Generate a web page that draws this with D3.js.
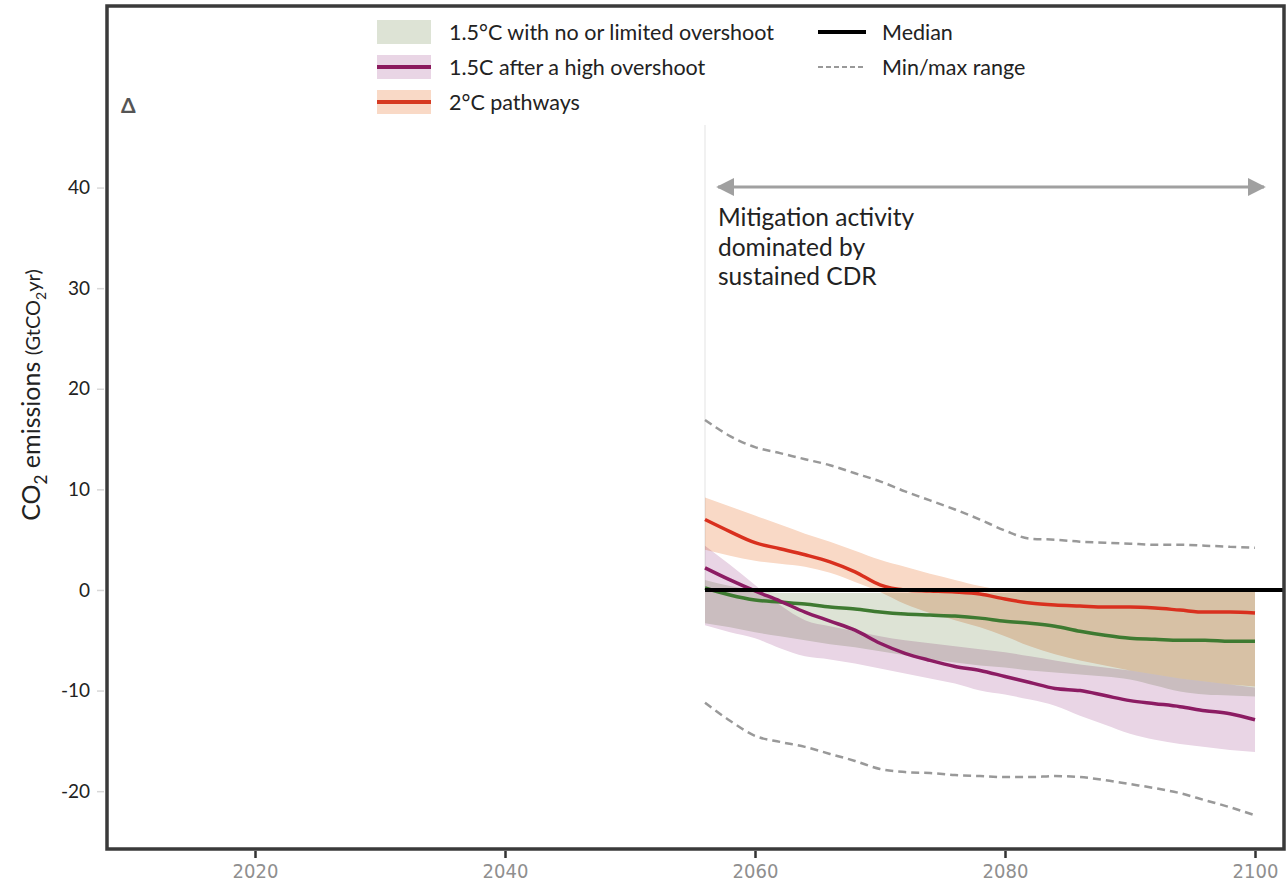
<!DOCTYPE html>
<html>
<head>
<meta charset="utf-8">
<script src="https://cdn.jsdelivr.net/npm/d3@7"></script>
<style>
  body { margin: 0; background: #fff; }
  svg { display: block; font-family: Lato, "Open Sans", sans-serif; }
  .band { mix-blend-mode: multiply; }
</style>
</head>
<body>
<div id="chart"></div>
<script>
// years every 2 yrs, 2056..2100
var years = d3.range(2056, 2101, 2);

// 2°C pathways
var red_med = [7.0, 5.8, 4.7, 4.1, 3.5, 2.8, 1.8, 0.5, 0.0, -0.1, -0.2, -0.4, -0.9, -1.3, -1.5, -1.6, -1.7, -1.7, -1.8, -2.0, -2.2, -2.2, -2.3];
var red_hi = [9.2, 8.3, 7.4, 6.5, 5.6, 4.8, 3.9, 3.0, 2.3, 1.6, 1.0, 0.4, 0.0, -0.1, -0.2, -0.2, -0.2, -0.2, -0.2, -0.2, -0.2, -0.2, -0.2];
var red_lo = [4.0, 3.4, 2.9, 2.6, 2.3, 1.7, 0.8, -0.2, -1.4, -2.3, -3.0, -3.7, -4.6, -5.6, -6.4, -7.0, -7.5, -8.0, -8.4, -8.8, -9.1, -9.4, -9.6];

// 1.5C after a high overshoot
var pur_med = [2.2, 1.0, -0.1, -1.1, -2.2, -3.1, -4.0, -5.3, -6.3, -7.0, -7.6, -8.0, -8.6, -9.2, -9.8, -10.0, -10.5, -11.0, -11.3, -11.6, -12.0, -12.3, -12.9];
var pur_hi = [4.4, 2.5, 0.5, -1.5, -3.0, -3.6, -4.1, -4.6, -5.0, -5.3, -5.6, -5.9, -6.2, -6.6, -7.0, -7.4, -7.7, -8.0, -8.4, -8.8, -9.1, -9.4, -9.7];
var pur_lo = [-3.5, -4.2, -4.8, -5.8, -6.6, -6.9, -7.3, -7.8, -8.3, -8.8, -9.3, -10.0, -10.4, -10.9, -11.5, -12.5, -13.4, -14.3, -14.9, -15.3, -15.6, -15.9, -16.1];

// 1.5°C with no or limited overshoot
var grn_med = [0.2, -0.5, -1.0, -1.2, -1.4, -1.7, -1.9, -2.2, -2.4, -2.5, -2.6, -2.8, -3.1, -3.3, -3.6, -4.1, -4.5, -4.8, -4.9, -5.0, -5.0, -5.1, -5.1];
var grn_hi = [1.0, 0.4, 0.0, -0.3, -0.3, -0.3, -0.3, -0.3, -0.3, -0.3, -0.3, -0.3, -0.3, -0.2, -0.2, -0.2, -0.2, -0.2, -0.2, -0.2, -0.2, -0.2, -0.2];
var grn_lo = [-3.3, -3.7, -4.2, -4.6, -5.0, -5.4, -5.7, -6.1, -6.5, -6.9, -7.2, -7.5, -7.7, -8.0, -8.2, -8.4, -8.6, -8.9, -9.5, -10.1, -10.4, -10.5, -10.6];

// min / max range
var range_max = [16.9, 15.3, 14.2, 13.6, 13.0, 12.4, 11.6, 10.8, 9.8, 8.9, 8.0, 7.0, 5.9, 5.1, 5.0, 4.8, 4.7, 4.6, 4.5, 4.5, 4.4, 4.3, 4.2];
var range_min = [-11.2, -13.0, -14.5, -15.1, -15.6, -16.3, -17.0, -17.8, -18.1, -18.2, -18.4, -18.5, -18.6, -18.6, -18.5, -18.6, -18.9, -19.3, -19.7, -20.2, -20.9, -21.6, -22.4];

var yTicks = [-20, -10, 0, 10, 20, 30, 40];
var xTicks = [2020, 2040, 2060, 2080, 2100];

var width = 1286, height = 886;
var frame = {left: 107, top: 6, right: 1284, bottom: 849};

var svg = d3.select("#chart").append("svg")
    .attr("width", width)
    .attr("height", height);

var x = d3.scaleLinear().domain([2008.16, 2102.32]).range([frame.left, frame.right]);
var y = d3.scaleLinear().domain([-25.75, 58.05]).range([frame.bottom, frame.top]);

var plot = svg.append("g").style("isolation", "isolate");
plot.append("rect")
    .attr("x", frame.left).attr("y", frame.top)
    .attr("width", frame.right - frame.left).attr("height", frame.bottom - frame.top)
    .attr("fill", "#fff");

// faint vertical marker where the CDR period starts
plot.append("line")
    .attr("x1", x(2056)).attr("x2", x(2056))
    .attr("y1", 125).attr("y2", y(0))
    .attr("stroke", "#ececec").attr("stroke-width", 1.5);

function band(hi, lo, color) {
  var area = d3.area()
    .x(function (d, i) { return x(years[i]); })
    .y0(function (d, i) { return y(lo[i]); })
    .y1(function (d, i) { return y(hi[i]); })
    .curve(d3.curveMonotoneX);
  plot.append("path")
    .datum(hi)
    .attr("class", "band")
    .attr("d", area)
    .attr("fill", color);
}

band(red_hi, red_lo, "#f9d9c6");
band(grn_hi, grn_lo, "#dde3d5");
band(pur_hi, pur_lo, "#e9d5e5");

var line = d3.line()
    .x(function (d, i) { return x(years[i]); })
    .y(function (d) { return y(d); })
    .curve(d3.curveMonotoneX);

[range_max, range_min].forEach(function (s) {
  plot.append("path")
    .datum(s)
    .attr("d", line)
    .attr("fill", "none")
    .attr("stroke", "#999")
    .attr("stroke-width", 2.5)
    .attr("stroke-dasharray", "8,5");
});

var medians = [
  {values: grn_med, color: "#3e7a31"},
  {values: pur_med, color: "#8c1c63"},
  {values: red_med, color: "#d9301e"}
];
medians.forEach(function (m) {
  plot.append("path")
    .datum(m.values)
    .attr("d", line)
    .attr("fill", "none")
    .attr("stroke", m.color)
    .attr("stroke-width", 3.5);
});

// zero line
plot.append("line")
    .attr("x1", x(2056)).attr("x2", frame.right)
    .attr("y1", y(0)).attr("y2", y(0))
    .attr("stroke", "#000").attr("stroke-width", 4);

// frame
svg.append("rect")
    .attr("x", frame.left).attr("y", frame.top)
    .attr("width", frame.right - frame.left).attr("height", frame.bottom - frame.top)
    .attr("fill", "none")
    .attr("stroke", "#3a3a3a")
    .attr("stroke-width", 3.5);

// y axis
var yAxis = svg.append("g")
    .attr("transform", "translate(104,0)")
    .call(d3.axisLeft(y).tickValues(yTicks).tickSize(7).tickPadding(7)
      .tickFormat(function (d) { return String(d); }));
yAxis.select(".domain").remove();
yAxis.selectAll(".tick line").attr("stroke", "#d8d8d8").attr("stroke-width", 1.5);
yAxis.selectAll(".tick text")
    .attr("fill", "#222")
    .style("font-family", "Lato, sans-serif")
    .style("font-size", "19px");

// x axis
var xAxis = svg.append("g")
    .attr("transform", "translate(0," + (frame.bottom + 2) + ")")
    .call(d3.axisBottom(x).tickValues(xTicks).tickFormat(d3.format("d")).tickSize(7).tickPadding(6));
xAxis.select(".domain").remove();
xAxis.selectAll(".tick line").attr("stroke", "#333").attr("stroke-width", 2.5);
xAxis.selectAll(".tick text")
    .attr("fill", "#8f8f8f")
    .style("font-family", "'Liberation Sans Narrow', 'DejaVu Sans Condensed', sans-serif")
    .style("font-stretch", "condensed")
    .style("font-size", "20px");

// y axis title
var yt = svg.append("text")
    .attr("transform", "translate(40,395) rotate(-90)")
    .attr("text-anchor", "middle")
    .attr("fill", "#222")
    .style("font-size", "25px");
yt.append("tspan").text("CO");
yt.append("tspan").attr("dy", 7).style("font-size", "17px").text("2");
yt.append("tspan").attr("dy", -7).text(" emissions ");
yt.append("tspan").style("font-size", "20px").text("(GtCO");
yt.append("tspan").attr("dy", 6).style("font-size", "14px").text("2");
yt.append("tspan").attr("dy", -6).style("font-size", "20px").text("yr)");

// panel letter
svg.append("text")
    .attr("x", 121).attr("y", 113)
    .attr("fill", "#555")
    .style("font-size", "21px")
    .style("font-weight", "bold")
    .text("Δ");

// arrow annotation
var defs = svg.append("defs");
defs.append("marker")
    .attr("id", "arrowhead")
    .attr("viewBox", "0 0 10 10")
    .attr("refX", 9).attr("refY", 5)
    .attr("markerWidth", 6).attr("markerHeight", 6)
    .attr("markerUnits", "strokeWidth")
    .attr("orient", "auto-start-reverse")
    .append("path")
    .attr("d", "M0,0L10,5L0,10Z")
    .attr("fill", "#a0a0a0");

svg.append("line")
    .attr("x1", 718).attr("x2", 1264)
    .attr("y1", 187).attr("y2", 187)
    .attr("stroke", "#a0a0a0")
    .attr("stroke-width", 3)
    .attr("marker-start", "url(#arrowhead)")
    .attr("marker-end", "url(#arrowhead)");

var note = ["Mitigation activity", "dominated by", "sustained CDR"];
svg.append("g").selectAll("text")
    .data(note)
    .enter().append("text")
    .attr("x", 718)
    .attr("y", function (d, i) { return 226 + i * 29.5; })
    .attr("fill", "#222")
    .style("font-size", "24.5px")
    .text(function (d) { return d; });

// legend
var legendLeft = [
  {label: "1.5°C with no or limited overshoot", fill: "#dde3d5", line: null},
  {label: "1.5C after a high overshoot", fill: "#e9d5e5", line: "#8b1a5e"},
  {label: "2°C pathways", fill: "#f9d9c6", line: "#d63a22"}
];
var lg = svg.append("g");
legendLeft.forEach(function (d, i) {
  var cy = 32 + i * 35;
  lg.append("rect")
    .attr("x", 377).attr("y", cy - 12)
    .attr("width", 54).attr("height", 24)
    .attr("fill", d.fill);
  if (d.line) {
    lg.append("line")
      .attr("x1", 377).attr("x2", 431)
      .attr("y1", cy).attr("y2", cy)
      .attr("stroke", d.line).attr("stroke-width", 4);
  }
  lg.append("text")
    .attr("x", 449).attr("y", cy)
    .attr("dy", "0.35em")
    .attr("fill", "#222")
    .style("font-size", "21.5px")
    .text(d.label);
});

var legendRight = [
  {label: "Median", color: "#000", dash: null, w: 4},
  {label: "Min/max range", color: "#999", dash: "5,3", w: 2}
];
legendRight.forEach(function (d, i) {
  var cy = 32 + i * 35;
  lg.append("line")
    .attr("x1", 818).attr("x2", 866)
    .attr("y1", cy).attr("y2", cy)
    .attr("stroke", d.color)
    .attr("stroke-width", d.w)
    .attr("stroke-dasharray", d.dash);
  lg.append("text")
    .attr("x", 882).attr("y", cy)
    .attr("dy", "0.35em")
    .attr("fill", "#222")
    .style("font-size", "21.5px")
    .text(d.label);
});
</script>
</body>
</html>
